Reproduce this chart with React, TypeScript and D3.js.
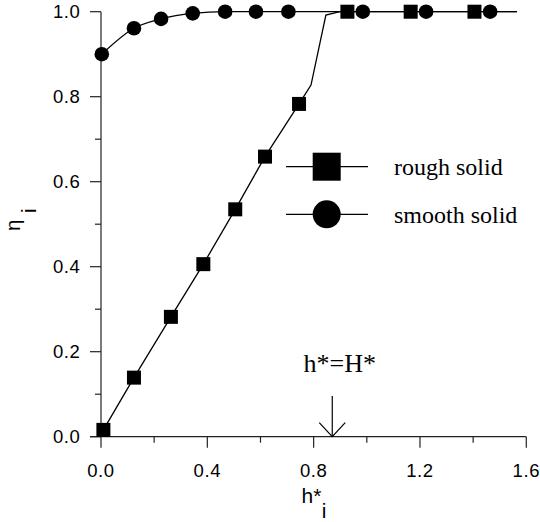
import React from "react";
import * as d3 from "d3";

// Rough solid: markers
const roughX = [0.009, 0.124, 0.263, 0.385, 0.505, 0.617, 0.745, 0.927, 1.165, 1.405];
const roughY = [0.016, 0.139, 0.282, 0.406, 0.535, 0.659, 0.783, 1.0, 1.0, 1.0];
// Rough solid: fitted line
const roughLineX = [0.009, 0.124, 0.263, 0.385, 0.505, 0.617, 0.745, 0.79, 0.846, 0.899, 1.565];
const roughLineY = [0.016, 0.139, 0.282, 0.406, 0.535, 0.659, 0.783, 0.8275, 0.992, 1.0, 1.0];
// Smooth solid: markers
const smoothX = [0.003, 0.124, 0.226, 0.345, 0.467, 0.583, 0.705, 0.985, 1.223, 1.464];
const smoothY = [0.9, 0.961, 0.983, 0.996, 1.0, 1.0, 1.0, 1.0, 1.0, 1.0];
// Smooth solid: fitted line
const smoothLineX = [0.003, 0.124, 0.226, 0.345, 0.467, 0.583, 0.705, 0.985, 1.223, 1.464, 1.565];
const smoothLineY = [0.9, 0.961, 0.983, 0.996, 1.0, 1.0, 1.0, 1.0, 1.0, 1.0, 1.0];

const xMajor = [0, 0.4, 0.8, 1.2, 1.6];
const xMinor = [0.2, 0.6, 1.0, 1.4];
const yMajor = [0, 0.2, 0.4, 0.6, 0.8, 1.0];
const yMinor = [0.1, 0.3, 0.5, 0.7, 0.9];

const legendLabels = ["rough solid", "smooth solid"];
const annotationText = "h*=H*";
const annotationX = 0.87;

export default function App() {
  const x = d3.scaleLinear().domain([0, 1.6]).range([101, 526.3]);
  const y = d3.scaleLinear().domain([0, 1]).range([436.7, 11.7]);
  const fmt = d3.format(".1f");

  const line = d3
    .line<[number, number]>()
    .x((d) => x(d[0]))
    .y((d) => y(d[1]));
  const smoothLine = d3
    .line<[number, number]>()
    .x((d) => x(d[0]))
    .y((d) => y(d[1]))
    .curve(d3.curveMonotoneX);

  const roughPts = roughLineX.map((v, i) => [v, roughLineY[i]] as [number, number]);
  const smoothPts = smoothLineX.map((v, i) => [v, smoothLineY[i]] as [number, number]);

  const sans = "'Liberation Sans', Arial, Helvetica, sans-serif";
  const serif = "'Liberation Serif', 'Times New Roman', serif";
  const axisColor = "#222";

  const ax = x(annotationX);
  const ay = y(0);

  return (
    <svg
      width={540}
      height={522}
      style={{ position: "absolute", left: 0, top: 0, background: "#fff" }}
    >
      <rect x={0} y={0} width={540} height={522} fill="#fff" />
      {/* axes */}
      <line x1={x(0)} x2={x(0)} y1={y(1)} y2={y(0)} stroke={axisColor} strokeWidth={1.2} />
      <line x1={x(0) - 11} x2={x(1.6)} y1={y(0)} y2={y(0)} stroke={axisColor} strokeWidth={1.2} />
      {yMajor.map((v) => (
        <g key={"ym" + v}>
          <line x1={x(0) - 11} x2={x(0)} y1={y(v)} y2={y(v)} stroke={axisColor} strokeWidth={1.2} />
          <text
            x={80.5}
            y={y(v)}
            dy="0.36em"
            textAnchor="end"
            fontFamily={sans}
            fontSize={18.5}
            letterSpacing={0.6}
            fill="#000"
          >
            {fmt(v)}
          </text>
        </g>
      ))}
      {yMinor.map((v) => (
        <line key={"yn" + v} x1={x(0) - 6} x2={x(0)} y1={y(v)} y2={y(v)} stroke={axisColor} strokeWidth={1.2} />
      ))}
      {xMajor.map((v) => (
        <g key={"xm" + v}>
          <line x1={x(v)} x2={x(v)} y1={y(0)} y2={y(0) + 11} stroke={axisColor} strokeWidth={1.2} />
          <text
            x={x(v)}
            y={476.7}
            textAnchor="middle"
            fontFamily={sans}
            fontSize={18.5}
            letterSpacing={0.6}
            fill="#000"
          >
            {fmt(v)}
          </text>
        </g>
      ))}
      {xMinor.map((v) => (
        <line key={"xn" + v} x1={x(v)} x2={x(v)} y1={y(0)} y2={y(0) + 6} stroke={axisColor} strokeWidth={1.2} />
      ))}

      {/* axis titles */}
      <text x={301.5} y={502.7} fontFamily={sans} fontSize={21} fill="#000">
        h*
      </text>
      <text x={321.8} y={518} fontFamily={sans} fontSize={21} fill="#000">
        i
      </text>
      <text transform="translate(19.5,231) rotate(-90)" fontFamily={sans} fontSize={20.5} fill="#000">
        η
      </text>
      <text transform="translate(35.5,213) rotate(-90)" fontFamily={sans} fontSize={20.5} fill="#000">
        i
      </text>

      {/* lines */}
      <path d={line(roughPts) || ""} fill="none" stroke="#000" strokeWidth={1.3} />
      <path d={smoothLine(smoothPts) || ""} fill="none" stroke="#000" strokeWidth={1.3} />

      {/* markers */}
      {roughX.map((v, i) => (
        <rect key={"r" + i} x={x(v) - 7} y={y(roughY[i]) - 7} width={14} height={14} fill="#000" />
      ))}
      {smoothX.map((v, i) => (
        <circle key={"s" + i} cx={x(v)} cy={y(smoothY[i])} r={7.3} fill="#000" />
      ))}

      {/* annotation */}
      <text x={303.5} y={371.7} fontFamily={serif} fontSize={26} fill="#000">
        {annotationText}
      </text>
      <line x1={ax} x2={ax} y1={396} y2={ay} stroke="#000" strokeWidth={1.2} />
      <polyline
        points={`${ax - 13},${ay - 14} ${ax},${ay} ${ax + 13},${ay - 14}`}
        fill="none"
        stroke="#000"
        strokeWidth={1.2}
      />

      {/* legend */}
      <g>
        <line x1={286} x2={368} y1={166.7} y2={166.7} stroke="#000" strokeWidth={1.2} />
        <rect x={326.7 - 14} y={166.7 - 14} width={28} height={28} fill="#000" />
        <text x={394} y={175} fontFamily={serif} fontSize={24} fill="#000">
          {legendLabels[0]}
        </text>
        <line x1={286} x2={368} y1={214.3} y2={214.3} stroke="#000" strokeWidth={1.2} />
        <circle cx={326.7} cy={214.3} r={14} fill="#000" />
        <text x={394} y={222.6} fontFamily={serif} fontSize={24} fill="#000">
          {legendLabels[1]}
        </text>
      </g>
    </svg>
  );
}
